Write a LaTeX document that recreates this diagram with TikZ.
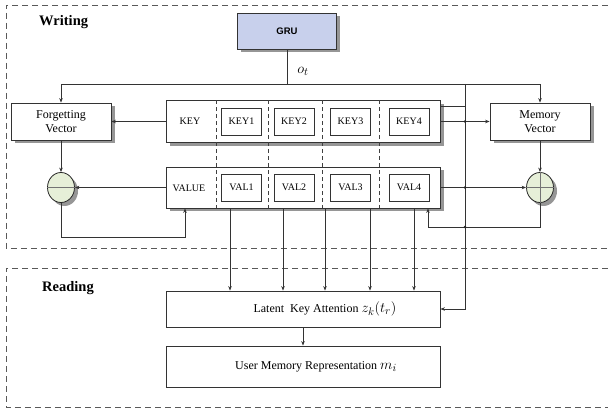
\documentclass[tikz,border=0pt]{standalone}
\usepackage{fontspec}
\setmainfont{Liberation Serif}
\newfontfamily\grufont{Liberation Sans}
\usetikzlibrary{arrows.meta,shadows,shapes.geometric}
\definecolor{gruFill}{HTML}{C8D0EC}
\definecolor{opFill}{HTML}{E6EFD8}
\newcommand{\bigmath}[1]{{\fontsize{15}{17}\selectfont$#1$}}
\begin{document}
\begin{tikzpicture}[x=1pt,y=-1pt,
  conn/.style={draw=black!80, line width=0.7pt},
  arr/.style={conn, -{Stealth[length=4.5pt,width=3.5pt]}},
  shad/.style={drop shadow={shadow xshift=3.5pt, shadow yshift=-3.5pt, fill=black!55, opacity=0.75}},
  box/.style={draw=black!80, line width=0.8pt, fill=white, inner sep=0pt, align=center, font=\fontsize{12}{14}\selectfont},
  cell/.style={draw=black!80, line width=0.8pt, fill=white, minimum width=40pt, minimum height=27pt, inner sep=0pt, font=\fontsize{10}{12}\selectfont},
  rowlab/.style={inner sep=0pt, font=\fontsize{10}{12}\selectfont},
  region/.style={draw=black!65, line width=0.8pt, dash pattern=on 6pt off 4pt},
  divider/.style={draw=black!75, line width=0.7pt, dash pattern=on 4pt off 3pt},
  sect/.style={font=\fontsize{14.5}{16}\selectfont\bfseries, anchor=west, inner sep=0pt},
  opnode/.style={ellipse, draw=black!85, line width=0.8pt, fill=opFill, minimum width=27pt, minimum height=30pt, inner sep=0pt, shad}
]
\useasboundingbox (0,0) rectangle (608,414);

% regions
\draw[region] (608,5) -- (6,5) -- (6,248) -- (608,248);
\draw[region] (608,268) -- (6,268) -- (6,407) -- (608,407);
\node[sect] (wr) at (39,22) {Writing};
\node[sect] (rd) at (42,288) {Reading};

% GRU
\node[box, shad, fill=gruFill, minimum width=99pt, minimum height=36pt, font=\grufont\bfseries\fontsize{9.5}{11}\selectfont] (gru) at (287,31) {GRU};
\node[inner sep=0pt] (ot) at (303,71) {\bigmath{o_t}};

% side boxes
\node[box, shad, minimum width=100pt, minimum height=37pt] (fv) at (61,121.5) {Forgetting\\Vector};
\node[box, shad, minimum width=100pt, minimum height=37pt] (mv) at (540,121.5) {Memory\\Vector};

% key / value rows
\node[box, shad, minimum width=274pt, minimum height=42pt] (keyrow) at (303,121.5) {};
\node[box, shad, minimum width=274pt, minimum height=41pt] (valrow) at (303,187.5) {};
\foreach \x in {216,268,322,379}{
  \draw[divider] (\x,100.5) -- (\x,208);
}
\node[rowlab] (klab) at (190,121.5) {KEY};
\node[rowlab] (vlab) at (189,188) {VALUE};
\node[cell] (k1) at (241.5,121.5) {KEY1};
\node[cell] (k2) at (294,121.5) {KEY2};
\node[cell] (k3) at (350.5,121.5) {KEY3};
\node[cell] (k4) at (409,121.5) {KEY4};
\node[cell] (v1) at (241.5,187.5) {VAL1};
\node[cell] (v2) at (294,187.5) {VAL2};
\node[cell] (v3) at (350.5,187.5) {VAL3};
\node[cell] (v4) at (409,187.5) {VAL4};

% operators
\node[opnode] (cl) at (61,187.5) {};
\node[opnode] (cr) at (540,187.5) {};
\draw[black!55, line width=0.6pt] (cl.west) -- (cl.east);
\draw[black!55, line width=0.6pt] (cr.west) -- (cr.east);
\draw[black!55, line width=0.6pt] (cr.north) -- (cr.south);

% reading boxes
\node[box, minimum width=274pt, minimum height=36pt,
  label={[xshift=22pt, font=\fontsize{12}{14}\selectfont]center:Latent~ Key Attention \bigmath{z_k(t_r)}}] (lat) at (303,309) {};
\node[box, minimum width=274pt, minimum height=41pt,
  label={[xshift=13pt, font=\fontsize{12}{14}\selectfont]center:User Memory Representation \bigmath{m_i}}] (umr) at (303,366.5) {};

% connectors
\coordinate (bus) at (287,84);
\coordinate (vt) at (465,84);
\coordinate (kj) at (465,106);
\coordinate (lb) at (185,237);
\coordinate (rb) at (428,227);
\draw[conn] (gru.south) -- (bus);
\draw[arr] (bus) -| (fv.north);
\draw[arr] (bus) -| (mv.north);
\draw[arr] (vt) |- (lat.east);
\draw[conn] (keyrow.east |- kj) -- (kj);
\draw[arr] (keyrow.west) -- (fv.east);
\draw[arr] (keyrow.east) -- (mv.west);
\draw[arr] (valrow.west) -- (cl.east);
\draw[arr] (valrow.east) -- (cr.west);
\draw[arr] (fv.south) -- (cl.north);
\draw[arr] (mv.south) -- (cr.north);
\draw[arr] (cl.south) |- (lb) -- (lb |- valrow.south);
\draw[arr] (cr.south) |- (rb) -- (rb |- valrow.south);
\foreach \x in {230,283,325,370,414}{
  \draw[arr] (valrow.south -| \x,0) -- (lat.north -| \x,0);
}
\draw[arr] (lat.south) -- (umr.north);
\foreach \y in {121.5,187.5,227}{
  \fill[black!85] (465,\y) circle (1.3pt);
}
\end{tikzpicture}
\end{document}
